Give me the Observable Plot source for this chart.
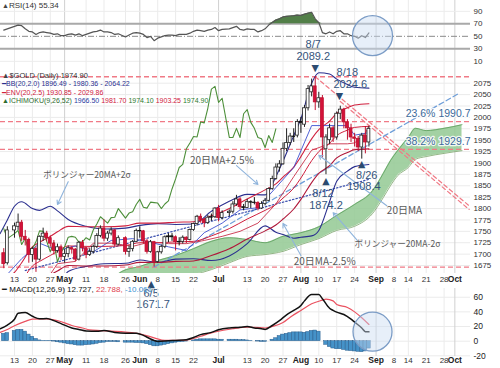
<!DOCTYPE html>
<html><head><meta charset="utf-8">
<script src="https://cdn.jsdelivr.net/npm/d3@7"></script>
<script src="https://cdn.jsdelivr.net/npm/@observablehq/plot@0.6"></script>
<style>
html,body{margin:0;background:#fff;overflow:hidden;}
#wrap{position:relative;width:500px;height:368px;overflow:hidden;background:#fff;font-family:'Liberation Sans',Arial,sans-serif;}
.panel{position:absolute;left:0;width:500px;}
.lg{position:absolute;left:2px;font-size:7px;line-height:8px;white-space:nowrap;}
</style></head><body>
<div id="wrap">
 <div id="rsi" class="panel" style="top:0"></div>
 <div id="main" class="panel" style="top:58px"></div>
 <div id="macd" class="panel" style="top:288px"></div>
 <div id="macdAxis" class="panel" style="top:288px;z-index:5"></div>
 <div class="lg" style="top:1.5px;font-size:8px;color:#333"><span style="color:#444;font-size:7px">▲</span>RSI(14) 55.34</div>
 <div class="lg" style="top:71.5px;font-size:7.5px;color:#333"><span style="color:#444">▲</span>$GOLD (Daily) 1974.90</div>
 <div class="lg" style="top:80.3px;color:#2a2f8f">━BB(20,2.0) 1896.49 - 1980.36 - 2064.22</div>
 <div class="lg" style="top:88.7px;color:#d0203e">━ENV(20,2.5) 1930.85 - 2029.86</div>
 <div class="lg" style="top:96.7px;color:#2e6b2e"><span>▲</span>ICHIMOKU(9,26,52) <span style="color:#2a3a9f">1966.50</span> <span style="color:#d0203e">1981.70</span> <span style="color:#2e7b2e">1974.10</span> <span style="color:#d0203e">1903.25</span> <span style="color:#2e7b2e">1974.90</span></div>
 <div class="lg" style="top:286px;font-size:8px;color:#111">━ MACD(12,26,9) 12.727, <span style="color:#e0404e">22.788,</span> <span style="color:#3a8fd0">-10.061</span></div>
</div>
<script>
// ---------- DATA ----------
const candles = [
 ["2020-04-08",1702,1712,1668,1678],["2020-04-09",1680,1760,1676,1752],["2020-04-13",1752,1768,1735,1761],
 ["2020-04-14",1760,1788,1752,1769],["2020-04-15",1769,1774,1728,1738],["2020-04-16",1738,1752,1718,1731],
 ["2020-04-17",1731,1735,1680,1698],["2020-04-20",1698,1715,1682,1711],["2020-04-21",1711,1716,1660,1688],
 ["2020-04-22",1688,1740,1685,1738],["2020-04-23",1738,1757,1728,1745],["2020-04-24",1745,1750,1727,1735],
 ["2020-04-27",1735,1740,1715,1723],["2020-04-28",1723,1730,1698,1707],["2020-04-29",1707,1722,1702,1715],
 ["2020-04-30",1715,1720,1686,1694],["2020-05-01",1694,1710,1680,1700],["2020-05-04",1700,1718,1692,1713],
 ["2020-05-05",1713,1716,1700,1710],["2020-05-06",1710,1712,1683,1688],["2020-05-07",1688,1728,1685,1725],
 ["2020-05-08",1725,1730,1705,1713],["2020-05-11",1713,1715,1690,1698],["2020-05-12",1698,1712,1695,1705],
 ["2020-05-13",1705,1720,1700,1716],["2020-05-14",1716,1745,1712,1740],["2020-05-15",1740,1762,1736,1756],
 ["2020-05-18",1756,1775,1727,1734],["2020-05-19",1734,1750,1728,1745],["2020-05-20",1745,1758,1740,1752],
 ["2020-05-21",1752,1754,1716,1721],["2020-05-22",1721,1740,1718,1735],["2020-05-26",1735,1738,1698,1705],
 ["2020-05-27",1705,1718,1693,1711],["2020-05-28",1711,1730,1705,1727],["2020-05-29",1727,1755,1725,1751],
 ["2020-06-01",1751,1760,1735,1750],["2020-06-02",1750,1752,1722,1728],["2020-06-03",1728,1732,1700,1705],
 ["2020-06-04",1705,1730,1702,1726],["2020-06-05",1726,1728,1671.7,1683],["2020-06-08",1683,1706,1680,1704],
 ["2020-06-09",1704,1720,1700,1716],["2020-06-10",1716,1740,1712,1737],["2020-06-11",1737,1745,1725,1739],
 ["2020-06-12",1739,1745,1728,1737],["2020-06-15",1737,1740,1707,1726],["2020-06-16",1726,1736,1718,1727],
 ["2020-06-17",1727,1740,1722,1736],["2020-06-18",1736,1738,1723,1731],["2020-06-19",1731,1755,1729,1753],
 ["2020-06-22",1753,1768,1750,1766],["2020-06-23",1766,1785,1762,1782],["2020-06-24",1782,1788,1768,1775],
 ["2020-06-25",1775,1778,1758,1768],["2020-06-26",1768,1785,1765,1780],["2020-06-29",1780,1788,1772,1781],
 ["2020-06-30",1781,1802,1778,1800],["2020-07-01",1800,1807,1771,1779],["2020-07-02",1779,1795,1775,1790],
 ["2020-07-06",1790,1797,1782,1793],["2020-07-07",1793,1815,1788,1809],["2020-07-08",1809,1829,1805,1820],
 ["2020-07-09",1820,1824,1797,1803],["2020-07-10",1803,1809,1795,1801],["2020-07-13",1801,1820,1800,1814],
 ["2020-07-14",1814,1817,1800,1813],["2020-07-15",1813,1824,1808,1812],["2020-07-16",1812,1815,1795,1800],
 ["2020-07-17",1800,1815,1798,1810],["2020-07-20",1810,1822,1806,1817],["2020-07-21",1817,1845,1815,1843],
 ["2020-07-22",1843,1871,1840,1865],["2020-07-23",1865,1898,1862,1890],["2020-07-24",1890,1905,1880,1897],
 ["2020-07-27",1897,1944,1895,1931],["2020-07-28",1931,1975,1925,1944],["2020-07-29",1944,1965,1938,1958],
 ["2020-07-30",1958,1975,1945,1957],["2020-07-31",1960,1995,1955,1990],["2020-08-03",1990,2000,1965,1988],
 ["2020-08-04",1984,2026,1978,2020],["2020-08-05",2020,2070,2014,2062],["2020-08-06",2055,2084,2045,2068],
 ["2020-08-07",2068,2089.2,2015,2033],["2020-08-10",2033,2055,2020,2042],["2020-08-11",2042,2048,1911,1956],
 ["2020-08-12",1930,1962,1874.2,1956],["2020-08-13",1950,1985,1940,1976],["2020-08-14",1976,1980,1945,1956],
 ["2020-08-17",1956,2012,1950,2008],["2020-08-18",2008,2024.6,1995,2017],["2020-08-19",2017,2020,1975,1989],
 ["2020-08-20",1989,1995,1950,1976],["2020-08-21",1976,1985,1945,1956],["2020-08-24",1956,1965,1935,1953],
 ["2020-08-25",1953,1958,1925,1934],["2020-08-26",1934,1965,1908.4,1960],["2020-08-27",1960,1980,1920,1945],
 ["2020-08-28",1945,1980,1935,1974.9]
];

const bandDates = ["2020-04-07","2020-04-09","2020-04-13","2020-04-15","2020-04-20","2020-04-22","2020-04-27","2020-04-29","2020-05-04","2020-05-11","2020-05-18","2020-05-26","2020-06-01","2020-06-08","2020-06-15","2020-06-22","2020-06-29","2020-07-06","2020-07-13","2020-07-20","2020-07-23","2020-07-27","2020-07-30","2020-08-03","2020-08-06","2020-08-10","2020-08-13","2020-08-17","2020-08-20","2020-08-24","2020-08-28"];
const ma20 = [1600,1610,1620,1640,1674,1684,1697,1706,1718,1717,1717,1719,1725,1725,1727,1728,1740,1756,1777,1796,1809,1823,1845,1867,1905,1925,1943,1960,1972,1978,1980.36];
const bbUpper = [1745,1775,1805,1815,1800,1796,1805,1795,1776,1761,1755,1757,1763,1767,1765,1766,1794,1816,1831,1830,1870,1904,1960,1997,2075,2098,2095,2084,2072,2066,2064.22];
const bbLower = [1455,1450,1445,1475,1553,1576,1597,1622,1662,1673,1679,1680,1687,1682,1689,1690,1686,1696,1723,1762,1748,1743,1735,1737,1740,1752,1815,1860,1882,1892,1896.49];
const envUpper = [1640,1650,1660,1681,1716,1726,1739,1749,1761,1760,1760,1762,1768,1768,1770,1771,1784,1800,1821,1841,1854,1869,1891,1914,1953,1973,1992,2009,2021,2027,2029.86];
const envLower = [1560,1570,1580,1599,1632,1642,1655,1663,1675,1674,1674,1676,1682,1682,1684,1685,1697,1712,1733,1751,1764,1777,1799,1820,1857,1877,1894,1911,1923,1929,1930.85];

const tenkanDates = ["2020-04-08","2020-04-15","2020-04-22","2020-04-29","2020-05-06","2020-05-13","2020-05-20","2020-05-28","2020-06-04","2020-06-11","2020-06-18","2020-06-25","2020-07-02","2020-07-09","2020-07-16","2020-07-23","2020-07-30","2020-08-06","2020-08-13","2020-08-20","2020-08-24","2020-08-28"];
const tenkan = [1647,1690,1724,1708,1718,1705,1730,1734,1726,1716,1708,1747,1768,1797,1802,1846,1890,1982,1982,1982,1961,1966.5];
const kijunDates = ["2020-04-08","2020-04-22","2020-04-29","2020-05-06","2020-05-13","2020-05-20","2020-05-28","2020-06-04","2020-06-11","2020-06-18","2020-06-25","2020-07-02","2020-07-09","2020-07-16","2020-07-23","2020-07-30","2020-08-06","2020-08-13","2020-08-20","2020-08-24","2020-08-27","2020-08-28"];
const kijun = [1577,1621,1679,1684,1724,1724,1717,1727,1723,1723,1730,1739,1750,1768,1810,1870,1928,1942,1942,1944,1965,1981.7];

const cloudDates = ["2020-05-21","2020-05-25","2020-06-01","2020-06-08","2020-06-15","2020-06-22","2020-06-29","2020-07-06","2020-07-13","2020-07-20","2020-07-27","2020-08-03","2020-08-10","2020-08-17","2020-08-24","2020-08-31","2020-09-03","2020-09-07","2020-09-09","2020-09-14","2020-09-16","2020-09-21","2020-09-28","2020-10-05"];
const senkouA = [1650,1662,1673,1686,1697,1712,1728,1736,1732,1725,1739,1747,1760,1785,1809,1839,1877,1905,1927,1956,1976,1971,1976,1984];
const senkouB = [1630,1640,1640,1645,1650,1655,1666,1681,1695,1699,1706,1721,1734,1752,1761,1789,1824,1850,1872,1890,1908,1914,1921,1927];

const fibLevels = [2089.2, 1990.7, 1929.7, 1671.7];
const fibLabels = [{pct:"23.6%", price:1990.7}, {pct:"38.2%", price:1929.7}];
const redTrend = [
 {id:"a", date:"2020-08-07", price:2089.2}, {id:"a", date:"2020-10-07", price:1806},
 {id:"b", date:"2020-08-18", price:2035}, {id:"b", date:"2020-10-07", price:1798}
];
const blueTrend = [{date:"2020-06-05", price:1671.7}, {date:"2020-10-02", price:2052}];
const navyTrend = [{date:"2020-04-16", price:1664}, {date:"2020-08-28", price:1864}];

const extremes = [
 {date:"2020-08-07", price:2089.2, label:"8/7", kind:"high"},
 {date:"2020-08-18", price:2024.6, label:"8/18", kind:"high"},
 {date:"2020-08-12", price:1874.2, label:"8/12", kind:"low"},
 {date:"2020-08-26", price:1908.4, label:"8/26", kind:"low"},
 {date:"2020-06-05", price:1671.7, label:"6/5", kind:"low"}
];
const notes = [
 {text:"ボリンジャー20MA+2σ", date:"2020-04-23", price:1872, from:["2020-05-04",1859], to:["2020-04-29",1809]},
 {text:"20日MA+2.5%", date:"2020-06-19", price:1905, from:["2020-07-08",1894], to:["2020-07-16",1853]},
 {text:"20日MA", date:"2020-09-04", price:1796, from:["2020-09-04",1806], to:["2020-08-10",1917]},
 {text:"ボリンジャー20MA-2σ", date:"2020-08-24", price:1721, from:["2020-08-25",1728], to:["2020-08-14",1791]},
 {text:"20日MA-2.5%", date:"2020-07-30", price:1684, from:["2020-08-03",1697], to:["2020-07-27",1767]}
];

const rsiValues = [60,62,66,68,67,62,58,57,53,56,57,56,55,53,54,51,
 51,53,54,52,54,51,53,55,57,58,60,57,57,56,53,54,49,52,55,56,
 55,53,48,50,43,47,49,51,52,52,51,53,53,53,55,58,60,59,58,60,61,64,
 59,61,62,64,66,61,60,62,61,61,57,59,62,68,72,76,78,81,82,82.5,83,84,
 83.5,85.5,87,88.5,78,72,56,54,57,54,58,59,54,54,51,50,47,51,48,55.34];
const rsiTicks = [90,70,50,30,10];

const macdDates = ["2020-04-07","2020-04-09","2020-04-13","2020-04-14","2020-04-16","2020-04-20","2020-04-22","2020-04-24","2020-04-28","2020-04-30","2020-05-05","2020-05-07","2020-05-11","2020-05-14","2020-05-18","2020-05-21","2020-05-26","2020-05-29","2020-06-02","2020-06-04","2020-06-05","2020-06-08","2020-06-11","2020-06-15","2020-06-18","2020-06-22","2020-06-24","2020-06-29","2020-07-01","2020-07-06","2020-07-09","2020-07-13","2020-07-15","2020-07-17","2020-07-20","2020-07-22","2020-07-24","2020-07-28","2020-07-30","2020-08-03","2020-08-04","2020-08-06","2020-08-10","2020-08-11","2020-08-13","2020-08-14","2020-08-17","2020-08-19","2020-08-21","2020-08-24","2020-08-26","2020-08-27","2020-08-28"];
const macdLine = [17,22,30,38,39,34,30.5,31,28,24,18,16,14,13.6,14.5,12,11,11,8,3,1,-0.4,0.5,1,2,5,9,12,15.5,18,19,20,18,17,16,21.4,28,36,42,48.7,55,63.7,63.7,58,45,42,39.6,36.4,30,26,18,13,12.727];
const signalDates = ["2020-04-07","2020-04-09","2020-04-13","2020-04-16","2020-04-20","2020-04-24","2020-04-29","2020-05-01","2020-05-05","2020-05-08","2020-05-12","2020-05-15","2020-05-20","2020-05-26","2020-06-01","2020-06-05","2020-06-10","2020-06-17","2020-06-19","2020-06-24","2020-06-30","2020-07-07","2020-07-13","2020-07-15","2020-07-20","2020-07-22","2020-07-27","2020-07-29","2020-08-03","2020-08-06","2020-08-11","2020-08-12","2020-08-14","2020-08-17","2020-08-20","2020-08-24","2020-08-26","2020-08-28"];
const signalLine = [12,16,21,27,30,30.5,28,25,21.4,18,15.5,14.5,13.6,12.3,10,4.6,1,1,2.3,6.8,12.5,17,19,19,18,20,25.5,32.8,42,51,56,57.5,55,50,46,40,32,22.788];
const macdHist = [10,11,14,15.5,15.5,13,9,6,3,1, 0.5,0.5,0.5,-0.5,-1.5,-2,-3,-4,-4.5,-5.5,
 -6,-6,-5.5,-5,-4.5,-3.5,-2.5,-2,-1,-1, -1,-1.5,-2,-2,-2,-2.5,-2.5,-3,-4,-5.5,
 -7,-7,-6,-5,-4,-3,-2,-1.5,-1,-0.5, 0,1,2,2.5,2.5,2.5,2.5,2.5,2,2,
 2,2,2,1.5,1.5,1,0.5,0,-0.5,-1, -1,0,2,4,7,9,10,11,12,12,
 12,11.5,12.5,14,14.5,13,0,-5,-8,-10, -11,-11,-12,-13,-13.5,-14,-14.5,-15,-14,-10.061];
const macdTicks = [60,40,20,0,-20];

const highlight = [{date:"2020-08-31", rsi:51, macd:13}];
const priceTicks = d3.range(1675, 2076, 25);
const dayTicks = [["2020-04-13","13"],["2020-04-20","20"],["2020-04-27","27"],["2020-05-11","11"],["2020-05-18","18"],["2020-05-26","26"],["2020-06-08","8"],["2020-06-15","15"],["2020-06-22","22"],["2020-07-13","13"],["2020-07-20","20"],["2020-07-27","27"],["2020-08-10","10"],["2020-08-17","17"],["2020-08-24","24"],["2020-09-08","8"],["2020-09-14","14"],["2020-09-21","21"],["2020-09-28","28"]];
const monthTicks = [["2020-05-01","May"],["2020-06-01","Jun"],["2020-07-01","Jul"],["2020-08-03","Aug"],["2020-09-01","Sep"],["2020-10-01","Oct"]];

// ---------- HELPERS ----------
const FONT = "'Liberation Sans', Arial, sans-serif";
const JFONT = "'Noto Sans CJK JP', sans-serif";
const base = Date.UTC(2020, 3, 13);
function ix(s) { // weekday index from 2020-04-13
  const days = Math.round((Date.parse(s + "T00:00:00Z") - base) / 864e5);
  const w = Math.floor(days / 7), r = days - w * 7;
  return w * 5 + Math.min(r, 5);
}
const xDomain = [-3.91, 127.37];
const mkStyle = () => ({background: "transparent", overflow: "visible", fontFamily: FONT, fontSize: "8px"});
const rows = (dates, vals) => dates.map((d, i) => ({x: ix(d), v: vals[i]}));
function vgrid() {
  return [
    Plot.ruleX(dayTicks, {x: d => ix(d[0]), stroke: "#ebebeb"}),
    Plot.ruleX(monthTicks, {x: d => ix(d[0]), stroke: "#d0d0d0"})
  ];
}
function xlabels(dy) {
  return [
    Plot.text(dayTicks, {x: d => ix(d[0]), text: d => d[1], frameAnchor: "bottom", dy, fontSize: 8, fill: "#333"}),
    Plot.text(monthTicks, {x: d => ix(d[0]), text: d => d[1], frameAnchor: "bottom", dy, fontSize: 8.5, fontWeight: "bold", fill: "#222"})
  ];
}
const rightLabels = ticks => Plot.text(ticks, {x: () => xDomain[1], y: d => d, text: d => String(d), dx: 3, textAnchor: "start", fontSize: 8, fill: "#333"});

// ---------- RSI ----------
const rsiRows = candles.map((c, i) => ({x: ix(c[0]), v: rsiValues[i]}));
document.getElementById("rsi").append(Plot.plot({
  width: 500, height: 58, marginTop: 0, marginBottom: 0, marginLeft: 0, marginRight: 30,
  x: {type: "linear", domain: xDomain, axis: null},
  y: {domain: [14.5, 107.3], axis: null},
  style: mkStyle(),
  marks: [
    ...vgrid(),
    Plot.ruleY([90, 10], {stroke: "#ececec"}),
    Plot.ruleY([70, 30], {stroke: "#a9a9a9", strokeWidth: 2}),
    Plot.ruleY([50], {stroke: "#8a8a8a", strokeDasharray: "6,2,1,2"}),
    Plot.areaY(rsiRows, {x: "x", y1: 70, y2: d => Math.max(d.v, 70), fill: "#527f48"}),
    Plot.line(rsiRows, {x: "x", y: "v", stroke: "#555", strokeWidth: 1.2}),
    Plot.dot(highlight, {x: d => ix(d.date), y: "rsi", r: 20, fill: "#c9dcf2", fillOpacity: 0.45, stroke: "#7b9cc6", strokeWidth: 1.3}),
    rightLabels(rsiTicks)
  ]
}));

// ---------- MAIN ----------
const cloudRows = cloudDates.map((d, i) => ({x: ix(d), a: senkouA[i], b: senkouB[i]}));
const bandRows = bandDates.map((d, i) => ({x: ix(d), ma: ma20[i], bu: bbUpper[i], bl: bbLower[i], eu: envUpper[i], el: envLower[i]}));
const chikou = candles.slice(26).map((c, k) => ({x: ix(candles[k][0]), v: c[4]}));
const candleColor = c => Math.abs(c[4] - c[1]) < 2.5 ? "#111" : (c[4] > c[1] ? "#fff" : "#d3133a");
const candleStroke = c => Math.abs(c[4] - c[1]) < 2.5 ? "#111" : (c[4] > c[1] ? "#222" : "#c0102f");
const annoLayout = {
  "8/7": {tri: [0, -9], d: [-2, -32], v: [-2, -20]},
  "8/18": {tri: [-1, -10], d: [7, -34], v: [10, -22]},
  "8/12": {tri: [0, 6], d: [-3, 19], v: [0, 31]},
  "8/26": {tri: [0, 5], d: [5, 16], v: [2, 27]},
  "6/5": {tri: [-3, 16.5], d: [-3, 26], v: [-1, 37.5]}
};
const ANNO = "#34547c";
const annoMarks = extremes.flatMap(e => {
  const L = annoLayout[e.label];
  const at = {x: d => ix(d.date), y: "price"};
  return [
    Plot.text([e], {...at, text: d => d.kind === "high" ? "▼" : "▲", dx: L.tri[0], dy: L.tri[1], fontSize: 9.5, fill: "#2b4a6f", fontFamily: "DejaVu Sans"}),
    Plot.text([e], {...at, text: "label", dx: L.d[0], dy: L.d[1], fontSize: 11, fill: ANNO}),
    Plot.text([e], {...at, text: d => d.price.toFixed(1), dx: L.v[0], dy: L.v[1], fontSize: 11, fill: ANNO})
  ];
});
const lineOpts = {x: "x", clip: true, curve: "monotone-x"};
const isKatakana = d => d.text.startsWith("ボ");
document.getElementById("main").append(Plot.plot({
  width: 500, height: 230, marginTop: 0, marginBottom: 15, marginLeft: 0, marginRight: 30,
  x: {type: "linear", domain: xDomain, axis: null},
  y: {domain: [1657.5, 2129.2], axis: null},
  color: {type: "identity"},
  style: mkStyle(),
  marks: [
    Plot.ruleY(priceTicks, {stroke: "#ebebeb"}),
    ...vgrid(),
    Plot.areaY(cloudRows, {x: "x", y1: "a", y2: "b", fill: "#93c993", fillOpacity: 0.85, clip: true, curve: "monotone-x"}),
    Plot.line(cloudRows, {x: "x", y: "a", stroke: "#5d9e5d", strokeWidth: 0.8, clip: true, curve: "monotone-x"}),
    Plot.line(cloudRows, {x: "x", y: "b", stroke: "#7aa56a", strokeWidth: 0.8, clip: true, curve: "monotone-x"}),
    Plot.ruleY(fibLevels, {stroke: "#f07a86", strokeDasharray: "5,3", strokeWidth: 1.3}),
    Plot.line(redTrend, {x: d => ix(d.date), y: "price", z: "id", stroke: "#f07a86", strokeDasharray: "4,3", strokeWidth: 1.2, clip: true}),
    Plot.line(blueTrend, {x: d => ix(d.date), y: "price", stroke: "#6f9fd9", strokeDasharray: "5,3", strokeWidth: 1.3, clip: true}),
    Plot.line(navyTrend, {x: d => ix(d.date), y: "price", stroke: "#3a4fae", strokeDasharray: "1.5,2", strokeWidth: 1.2, clip: true}),
    Plot.line(bandRows, {...lineOpts, y: "bu", stroke: "#2b2f8f", strokeWidth: 1.1}),
    Plot.line(bandRows, {...lineOpts, y: "bl", stroke: "#2b2f8f", strokeWidth: 1.1}),
    Plot.line(bandRows, {...lineOpts, y: "ma", stroke: "#d0203e", strokeWidth: 1}),
    Plot.line(bandRows, {...lineOpts, y: "eu", stroke: "#d0203e", strokeWidth: 1.1}),
    Plot.line(bandRows, {...lineOpts, y: "el", stroke: "#b0183a", strokeWidth: 1.1}),
    Plot.line(rows(tenkanDates, tenkan), {x: "x", y: "v", stroke: "#3c4fd0", strokeWidth: 0.9, clip: true}),
    Plot.line(rows(kijunDates, kijun), {x: "x", y: "v", stroke: "#c8304a", strokeWidth: 0.9, clip: true}),
    Plot.line(chikou, {x: "x", y: "v", stroke: "#4d8f3a", strokeWidth: 1.1, clip: true}),
    Plot.ruleX(candles, {x: d => ix(d[0]), y1: d => d[3], y2: d => d[2], stroke: candleStroke, strokeWidth: 1}),
    Plot.rect(candles, {x1: d => ix(d[0]) - 0.4, x2: d => ix(d[0]) + 0.4, y1: d => d[1], y2: d => d[4], fill: candleColor, stroke: candleStroke, strokeWidth: 0.8}),
    Plot.arrow(notes, {x1: d => ix(d.from[0]), y1: d => d.from[1], x2: d => ix(d.to[0]), y2: d => d.to[1], stroke: "#8fb4dc", strokeWidth: 1.1, headLength: 6}),
    Plot.text(notes, Plot.filter(d => !isKatakana(d), {x: d => ix(d.date), y: "price", text: "text", textAnchor: "start", fontSize: 10, fill: "#5a5a5a", fontFamily: JFONT})),
    Plot.text(notes, Plot.filter(isKatakana, {x: d => ix(d.date), y: "price", text: "text", textAnchor: "start", fontSize: 8.6, fill: "#5a5a5a", fontFamily: JFONT})),
    Plot.text(fibLabels, {y: "price", text: d => d.pct + " " + d.price.toFixed(1), frameAnchor: "right", textAnchor: "end", dx: 0, dy: -8, fontSize: 10.5, fill: "#3b6a9a", stroke: "white", strokeWidth: 2.5, strokeOpacity: 0.85}),
    ...annoMarks,
    rightLabels(priceTicks),
    ...xlabels(8)
  ]
}));

// ---------- MACD ----------
const histRows = candles.map((c, i) => ({x: ix(c[0]), v: macdHist[i]}));
const macdY = {domain: [-20.9, 71.9], axis: null};
document.getElementById("macd").append(Plot.plot({
  width: 500, height: 80, marginTop: 0, marginBottom: 12, marginLeft: 0, marginRight: 30,
  x: {type: "linear", domain: xDomain, axis: null},
  y: macdY,
  style: mkStyle(),
  marks: [
    Plot.ruleY(macdTicks, {stroke: "#ebebeb"}),
    ...vgrid(),
    Plot.rectY(histRows, {x1: d => d.x - 0.5, x2: d => d.x + 0.5, y1: 0, y2: "v", fill: "#4592c8", stroke: "#285d8c", strokeWidth: 0.5}),
    Plot.line(rows(signalDates, signalLine), {x: "x", y: "v", stroke: "#ea5260", strokeWidth: 1.2, curve: "monotone-x"}),
    Plot.line(rows(macdDates, macdLine), {x: "x", y: "v", stroke: "#111", strokeWidth: 1.5, curve: "monotone-x"}),
    Plot.dot(highlight, {x: d => ix(d.date), y: "macd", r: 19.5, fill: "#c9dcf2", fillOpacity: 0.45, stroke: "#7b9cc6", strokeWidth: 1.3}),
    ...xlabels(6)
  ]
}));
// MACD value labels drawn as their own layer with the same scales
document.getElementById("macdAxis").append(Plot.plot({
  width: 500, height: 80, marginTop: 0, marginBottom: 12, marginLeft: 0, marginRight: 30,
  x: {type: "linear", domain: xDomain, axis: null},
  y: macdY,
  style: mkStyle(),
  marks: [
    Plot.text(macdTicks, {x: () => xDomain[1], y: d => d, text: d => String(d), dx: 3, textAnchor: "start", fontSize: 8.5, fill: "#222"})
  ]
}));
</script>
</body></html>
